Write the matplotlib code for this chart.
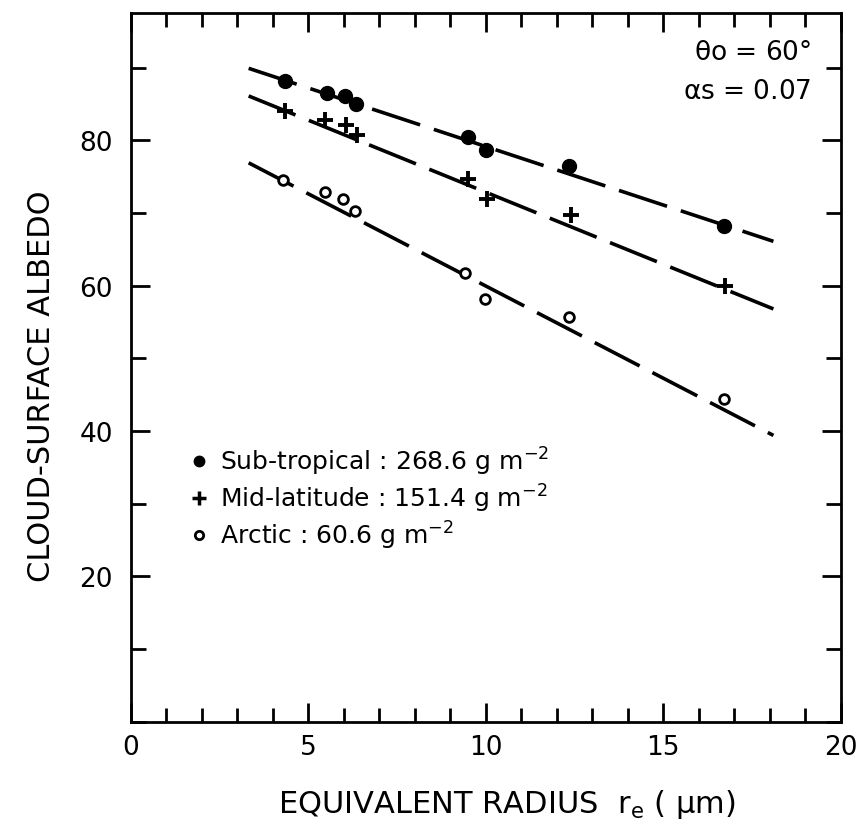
import numpy as np
import matplotlib
matplotlib.use("Agg")
import matplotlib.pyplot as plt
from matplotlib.lines import Line2D
from matplotlib.ticker import MultipleLocator

# Points (equivalent radius in um, albedo in %)
sub_x = [4.34, 5.52, 6.03, 6.34, 9.49, 10.0, 12.33, 16.7]
sub_y = [88.1, 86.5, 86.1, 85.0, 80.4, 78.6, 76.5, 68.2]

mid_x = [4.34, 5.47, 6.06, 6.37, 9.49, 10.03, 12.4, 16.73]
mid_y = [84.0, 82.8, 82.1, 80.7, 74.7, 71.9, 69.7, 59.9]

arc_x = [4.28, 5.46, 5.97, 6.31, 9.41, 9.97, 12.34, 16.7]
arc_y = [74.6, 72.9, 71.9, 70.3, 61.8, 58.2, 55.7, 44.4]

# Fitted lines (end points)
fit_x = [3.32, 18.1]
sub_fit = [89.9, 66.1]
mid_fit = [86.1, 56.8]
arc_fit = [76.9, 39.4]

labels = ["Sub-tropical : 268.6 g m$^{-2}$",
          "Mid-latitude : 151.4 g m$^{-2}$",
          "Arctic : 60.6 g m$^{-2}$"]

plt.rcParams['font.family'] = ['DejaVu Sans']
plt.rcParams['mathtext.default'] = 'regular'

fig = plt.figure(figsize=(8.66, 8.28), dpi=100)
ax = fig.add_axes([0.151, 0.127, 0.82, 0.856])

dash = (0, (14, 4))
lw = 2.6
ax.plot(fit_x, sub_fit, color='black', lw=lw, linestyle=dash)
ax.plot(fit_x, mid_fit, color='black', lw=lw, linestyle=dash)
ax.plot(fit_x, arc_fit, color='black', lw=lw, linestyle=dash)

ax.plot(sub_x, sub_y, 'o', color='black', ms=10, zorder=3)
ax.plot(mid_x, mid_y, '+', color='black', ms=12, mew=2.8, zorder=3)
ax.plot(arc_x, arc_y, 'o', mfc='white', mec='black', ms=7, mew=2, zorder=3)

# legend with smaller marker proxies
handles = [Line2D([], [], marker='o', ls='', color='black', ms=7.5),
           Line2D([], [], marker='+', ls='', color='black', ms=10, mew=2.5),
           Line2D([], [], marker='o', ls='', mfc='white', mec='black', ms=6, mew=2)]
ax.legend(handles, labels, loc='upper left', bbox_to_anchor=(0.07, 0.405),
          frameon=False, fontsize=18, handlelength=0.7, handletextpad=0.5,
          labelspacing=0.2, borderaxespad=0)

ax.text(0.959, 0.945, r"$\theta$o = 60°", transform=ax.transAxes,
        ha='right', va='center', fontsize=19)
ax.text(0.959, 0.89, r"$\alpha$s = 0.07", transform=ax.transAxes,
        ha='right', va='center', fontsize=19)

ax.set_xlim(0, 20)
ax.set_ylim(0, 97.5)
ax.xaxis.set_major_locator(MultipleLocator(5))
ax.xaxis.set_minor_locator(MultipleLocator(1))
ax.yaxis.set_major_locator(MultipleLocator(20))
ax.yaxis.set_minor_locator(MultipleLocator(10))
ax.set_yticks([20, 40, 60, 80])

ax.tick_params(which='both', direction='in', top=True, right=True,
               width=2, labelsize=19)
ax.tick_params(axis='x', which='major', length=14, pad=9)
ax.tick_params(axis='x', which='minor', length=10)
ax.tick_params(axis='y', which='major', length=14, pad=13)
ax.tick_params(axis='y', which='minor', length=11)
for sp in ax.spines.values():
    sp.set_linewidth(2)

ax.set_xlabel(r"EQUIVALENT RADIUS  r$_e$ ( $\mu$m)", fontsize=22)
ax.set_ylabel("CLOUD-SURFACE ALBEDO", fontsize=22)
ax.xaxis.set_label_coords(0.53, -0.092)
ax.yaxis.set_label_coords(-0.105, 0.475)

plt.savefig("out.png", dpi=100)
plt.close()
